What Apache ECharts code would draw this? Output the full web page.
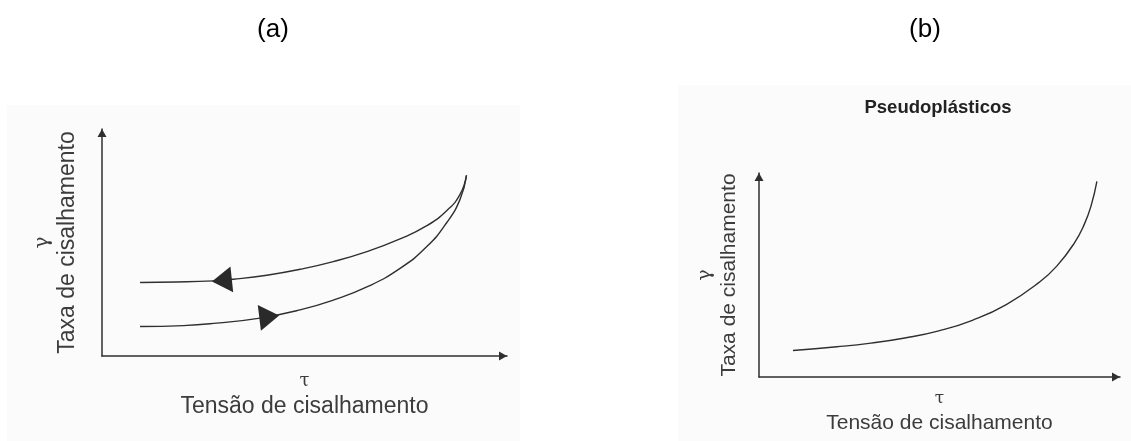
<!DOCTYPE html>
<html>
<head>
<meta charset="utf-8">
<script src="https://cdn.jsdelivr.net/npm/echarts@6/dist/echarts.min.js"></script>
<style>
  html, body { margin: 0; padding: 0; background: #ffffff; }
  #chart { width: 1131px; height: 441px; }
</style>
</head>
<body>
<div id="chart"></div>
<script>
// Panel captions and axis titles
const panelLabels = ['(a)', '(b)'];
const titleB = 'Pseudoplásticos';
const xNameLines = ['τ', 'Tensão de cisalhamento'];
const yNameLines = ['γ', 'Taxa de cisalhamento'];

// Panel (a): hysteresis loop, curve while stress rises and curve while it falls
const loopRising = [
  [9.4, 13.0], [20.1, 13.4], [28.3, 14.5], [39.0, 16.7], [48.9, 20.3], [57.1, 24.6],
  [65.4, 30.4], [73.6, 38.6], [80.2, 48.2], [85.1, 58.7], [88.4, 69.0], [90.0, 79.6]
];
const loopFalling = [
  [9.4, 32.4], [18.4, 32.6], [27.5, 33.1], [32.4, 33.8], [40.7, 35.6], [48.9, 38.2],
  [57.1, 41.6], [65.4, 46.0], [73.6, 51.6], [80.2, 57.4], [85.1, 64.0], [88.4, 71.2], [90.0, 79.6]
];
// Direction markers on the loop (position on curve, heading in degrees)
const loopArrowPos = [[41.3, 17.3], [29.6, 33.3]];
const loopArrowHeading = [-83, 96];

// Panel (b): pseudoplastic flow curve
const pseudoCurve = [
  [9.4, 13.0], [21.6, 14.8], [31.0, 16.6], [40.4, 19.1], [49.8, 22.6], [59.1, 27.8],
  [68.5, 35.5], [77.9, 46.8], [82.6, 54.6], [87.3, 65.5], [90.1, 74.8], [92.0, 84.0], [93.6, 95.9]
];

const INK = '#2f2f2f';
const TEXT = '#3c3c3c';
const SANS = 'Liberation Sans, Arial, sans-serif';
const SERIF = 'DejaVu Serif, serif';

function axisLineStyle() {
  return {
    show: true,
    lineStyle: { color: INK, width: 1.5 },
    symbol: ['none', 'triangle'],
    symbolSize: [9, 8],
    symbolOffset: [0, -4]
  };
}

function nameRich(symSize, textSize, lh) {
  return {
    g: { fontFamily: SERIF, fontSize: symSize, lineHeight: lh, color: TEXT },
    t: { fontFamily: SANS, fontSize: textSize, lineHeight: lh, color: TEXT }
  };
}

function baseAxis(gridIndex, name, gap, rotate, rich) {
  return {
    type: 'value', gridIndex: gridIndex, min: 0, max: 100,
    axisLine: axisLineStyle(),
    axisTick: { show: false }, axisLabel: { show: false }, splitLine: { show: false },
    name: name, nameLocation: 'middle', nameGap: gap, nameRotate: rotate,
    nameTextStyle: { rich: rich }
  };
}

const xName = '{g|' + xNameLines[0] + '}\n{t|' + xNameLines[1] + '}';
const yName = '{g|' + yNameLines[0] + '}\n{t|' + yNameLines[1] + '}';

const curveStyle = { color: INK, width: 1.4 };

const option = {
  backgroundColor: '#ffffff',
  animation: false,
  title: [
    { text: panelLabels[0], left: 273, top: 17, textAlign: 'center', padding: 0,
      textStyle: { fontFamily: SANS, fontSize: 26, fontWeight: 'normal', color: '#000' } },
    { text: panelLabels[1], left: 925, top: 17, textAlign: 'center', padding: 0,
      textStyle: { fontFamily: SANS, fontSize: 26, fontWeight: 'normal', color: '#000' } },
    { text: titleB, left: 938, top: 98, textAlign: 'center', padding: 0,
      textStyle: { fontFamily: SANS, fontSize: 18.5, fontWeight: 'bold', color: '#222' } }
  ],
  graphic: [
    { type: 'rect', z: -10, silent: true, shape: { x: 7, y: 105, width: 513, height: 336 },
      style: { fill: '#fbfbfb' } },
    { type: 'rect', z: -10, silent: true, shape: { x: 678, y: 85, width: 453, height: 356 },
      style: { fill: '#fbfbfb' } }
  ],
  grid: [
    { left: 102, top: 129, width: 405, height: 227, outerBoundsMode: 'none' },
    { left: 759, top: 173, width: 361, height: 204, outerBoundsMode: 'none' }
  ],
  xAxis: [
    baseAxis(0, xName, 13, 0, nameRich(18, 23, 25)),
    baseAxis(1, xName, 10, 0, nameRich(17, 21, 24))
  ],
  yAxis: [
    baseAxis(0, yName, 22, 90, nameRich(20, 23, 25)),
    baseAxis(1, yName, 18, 90, nameRich(19, 21, 24))
  ],
  series: [
    { type: 'line', xAxisIndex: 0, yAxisIndex: 0, data: loopRising, smooth: 0.5,
      showSymbol: false, lineStyle: curveStyle, silent: true },
    { type: 'line', xAxisIndex: 0, yAxisIndex: 0, data: loopFalling, smooth: 0.5,
      showSymbol: false, lineStyle: curveStyle, silent: true },
    { type: 'scatter', xAxisIndex: 0, yAxisIndex: 0, symbol: 'triangle', symbolSize: [26, 20],
      itemStyle: { color: '#2a2a2a', opacity: 1 }, silent: true, z: 3,
      data: loopArrowPos.map((p, i) => ({ value: p, symbolRotate: loopArrowHeading[i] })) },
    { type: 'line', xAxisIndex: 1, yAxisIndex: 1, data: pseudoCurve, smooth: 0.5,
      showSymbol: false, lineStyle: curveStyle, silent: true }
  ]
};

const chart = echarts.init(document.getElementById('chart'), null, { renderer: 'canvas' });
chart.setOption(option);
</script>
</body>
</html>
